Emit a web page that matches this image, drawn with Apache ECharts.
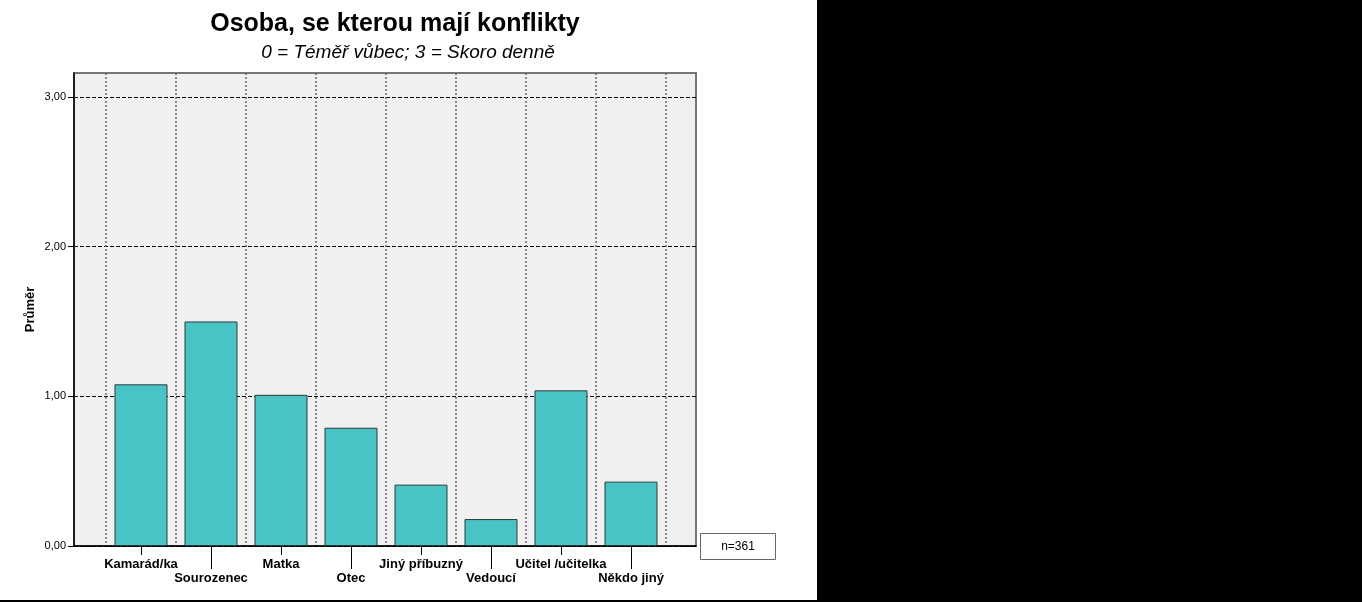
<!DOCTYPE html>
<html>
<head>
<meta charset="utf-8">
<script src="https://cdn.jsdelivr.net/npm/echarts@6/dist/echarts.min.js"></script>
<style>html,body{margin:0;padding:0;background:#fff;}#c{width:1362px;height:602px;}</style>
</head>
<body>
<div id="c"></div>
<script>
const titleText = 'Osoba, se kterou mají konflikty';
const subtitleText = '0 = Téměř vůbec; 3 = Skoro denně';
const categories = ['Kamarád/ka','Sourozenec','Matka','Otec','Jiný příbuzný','Vedoucí','Učitel /učitelka','Někdo jiný'];
const means = [1.08, 1.50, 1.01, 0.79, 0.41, 0.18, 1.04, 0.43];
const yTicks = [0, 1, 2, 3];
const yMax = 3.16;
const nText = 'n=361';

const chart = echarts.init(document.getElementById('c'), null, {renderer: 'canvas'});
const font = 'Arial, "Liberation Sans", sans-serif';
const fmt = v => v.toFixed(2).replace('.', ',');

chart.setOption({
  animation: false,
  backgroundColor: '#ffffff',
  textStyle: {fontFamily: font},
  grid: [
    {left: 74, right: 666, top: 73, bottom: 56, show: true, backgroundColor: '#f0f0f0', borderColor: '#777777', borderWidth: 2, outerBoundsMode: 'none'},
    {left: 106, right: 696, top: 73, bottom: 56, show: false, outerBoundsMode: 'none'}
  ],
  xAxis: [
    {gridIndex: 0, type: 'category', data: categories, axisLine: {show: true, lineStyle: {color: '#000', width: 1.5}}, axisTick: {show: false}, axisLabel: {show: false}, splitLine: {show: false}},
    {gridIndex: 1, type: 'category', data: categories, boundaryGap: true,
      axisLine: {show: false},
      axisTick: {show: true, alignWithLabel: true, length: 9, interval: (i) => i % 2 === 0, lineStyle: {color: '#000', width: 1}},
      axisLabel: {show: true, interval: (i) => i % 2 === 0, margin: 12, color: '#000', fontWeight: 'bold', fontSize: 13, fontFamily: font},
      splitLine: {show: true, interval: 0, lineStyle: {color: '#666', type: [2, 2], width: 1.5}}},
    {gridIndex: 1, type: 'category', data: categories, boundaryGap: true, position: 'bottom',
      axisLine: {show: false},
      axisTick: {show: true, alignWithLabel: true, length: 23, interval: (i) => i % 2 === 1, lineStyle: {color: '#000', width: 1}},
      axisLabel: {show: true, interval: (i) => i % 2 === 1, margin: 26, color: '#000', fontWeight: 'bold', fontSize: 13, fontFamily: font},
      splitLine: {show: false}}
  ],
  yAxis: [
    {gridIndex: 0, type: 'value', min: 0, max: yMax, interval: 1,
      name: 'Průměr', nameLocation: 'middle', nameGap: 37, nameRotate: 90,
      nameTextStyle: {color: '#000', fontWeight: 'bold', fontSize: 13, fontFamily: font},
      axisLine: {show: true, lineStyle: {color: '#000', width: 1.5}},
      axisTick: {show: true, length: 6, customValues: yTicks, lineStyle: {color: '#000'}},
      axisLabel: {show: true, customValues: yTicks, formatter: fmt, color: '#000', fontSize: 11, margin: 8, fontFamily: font},
      splitLine: {show: true, lineStyle: {color: '#000', type: [4, 2], width: 1}}},
    {gridIndex: 1, type: 'value', min: 0, max: yMax, interval: 1, show: false, splitLine: {show: false}}
  ],
  series: [{
    type: 'bar', xAxisIndex: 1, yAxisIndex: 1, data: means, barWidth: 53,
    itemStyle: {color: '#48c3c6', borderColor: '#2e3a3a', borderWidth: 1},
    z: 5
  }],
  graphic: [
    {type: 'text', x: 395, y: 24, style: {text: titleText, fill: '#000', font: 'bold 25px ' + font, textAlign: 'center', textVerticalAlign: 'middle'}},
    {type: 'text', x: 408, y: 53, style: {text: subtitleText, fill: '#000', font: 'italic 19px ' + font, textAlign: 'center', textVerticalAlign: 'middle'}},
    {type: 'rect', shape: {x: 700.5, y: 533.5, width: 75, height: 26}, style: {fill: '#fff', stroke: '#666', lineWidth: 1}},
    {type: 'text', x: 738, y: 547, style: {text: nText, fill: '#000', font: '12px ' + font, textAlign: 'center', textVerticalAlign: 'middle'}},
    {type: 'rect', shape: {x: 817, y: 0, width: 545, height: 602}, style: {fill: '#000'}},
    {type: 'rect', shape: {x: 0, y: 600, width: 1362, height: 2}, style: {fill: '#000'}}
  ]
});
</script>
</body>
</html>
